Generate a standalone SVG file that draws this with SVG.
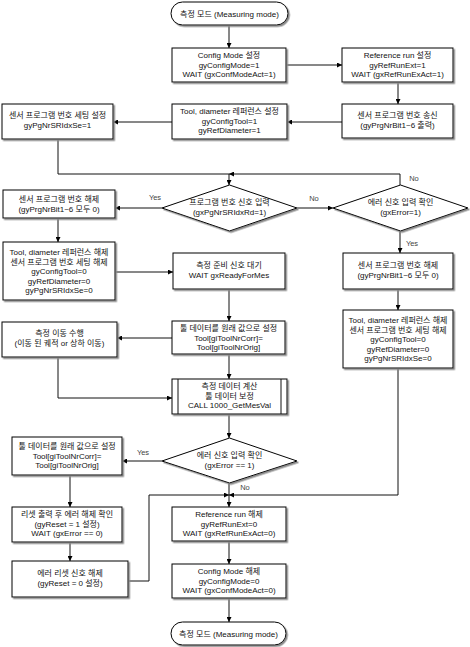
<svg xmlns="http://www.w3.org/2000/svg" width="470" height="647" viewBox="0 0 470 647">
<defs>
<filter id="sh" x="-10%" y="-10%" width="130%" height="140%"><feDropShadow dx="1.5" dy="1.5" stdDeviation="0" flood-color="#8a8a8a"/></filter>
<marker id="ah" viewBox="0 0 6 6" refX="6" refY="3" markerWidth="5" markerHeight="5" orient="auto" markerUnits="userSpaceOnUse"><path d="M0,0 L6,3 L0,6 z" fill="#000"/></marker>
</defs>
<style>
.n{fill:#fff;stroke:#000;stroke-width:1;filter:url(#sh)}
.t{font-family:"Liberation Sans","Noto Sans CJK KR",sans-serif;font-size:8px;fill:#111;text-anchor:middle}
.l{font-family:"Liberation Sans","Noto Sans CJK KR",sans-serif;font-size:7.5px;fill:#444;text-anchor:middle}
.c{fill:none;stroke:#111;stroke-width:1;marker-end:url(#ah)}
.p{fill:none;stroke:#111;stroke-width:1}
</style>
<rect width="470" height="647" fill="#fff"/>
<g id="connectors">
<path class="c" d="M229,25 V48"/>
<path class="c" d="M286,65 H342"/>
<path class="c" d="M398,82 V104"/>
<path class="c" d="M342,122 H287"/>
<path class="c" d="M172,122 H113"/>
<path class="c" d="M58,139 V174 H229 V185"/>
<path class="c" d="M400,185 V174 H229"/>
<path class="c" d="M297,208 H333"/>
<path class="c" d="M162,208 H115"/>
<path class="c" d="M58,218 V242"/>
<path class="c" d="M115,272 H173"/>
<path class="c" d="M400,231 V253"/>
<path class="c" d="M398,289 V310"/>
<path class="c" d="M229,289 V321"/>
<path class="c" d="M172,338 H117"/>
<path class="c" d="M229,354 V379"/>
<path class="c" d="M58,357 V398 H172"/>
<path class="c" d="M229,414 V438"/>
<path class="c" d="M162,461 H122"/>
<path class="c" d="M70,475 V507"/>
<path class="c" d="M70,542 V561"/>
<path class="c" d="M128,581 H149 V495 H229"/>
<path class="c" d="M229,483 V507"/>
<path class="c" d="M398,368 V495 H229"/>
<path class="c" d="M229,541 V564"/>
<path class="c" d="M229,598 V622"/>
<text class="l" x="155" y="200">Yes</text>
<text class="l" x="314" y="201">No</text>
<text class="l" x="414" y="181">No</text>
<text class="l" x="412" y="246">Yes</text>
<text class="l" x="143" y="455">Yes</text>
<text class="l" x="245" y="490">No</text>
</g>
<g id="start"><rect class="n" x="171" y="2" width="117" height="23" rx="11.5"/><text class="t" x="229.5" y="16.5">측정 모드 (Measuring mode)</text></g>
<g id="config-set"><rect class="n" x="172" y="48" width="114" height="34"/><text class="t" x="229" y="58"><tspan x="229">Config Mode 설정</tspan><tspan x="229" dy="9.5">gyConfigMode=1</tspan><tspan x="229" dy="9.5">WAIT (gxConfModeAct=1)</tspan></text></g>
<g id="ref-set"><rect class="n" x="342" y="48" width="111" height="34"/><text class="t" x="397.5" y="58"><tspan x="397.5">Reference run 설정</tspan><tspan x="397.5" dy="9.5">gyRefRunExt=1</tspan><tspan x="397.5" dy="9.5">WAIT (gxRefRunExAct=1)</tspan></text></g>
<g id="send"><rect class="n" x="342" y="104" width="111" height="34"/><text class="t" x="397.5" y="118"><tspan x="397.5">센서 프로그램 번호 송신</tspan><tspan x="397.5" dy="9.5">(gyPrgNrBit1~6 출력)</tspan></text></g>
<g id="toolref-set"><rect class="n" x="172" y="104" width="115" height="35"/><text class="t" x="229.5" y="114"><tspan x="229.5">Tool, diameter 레퍼런스 설정</tspan><tspan x="229.5" dy="9.5">gyConfigTool=1</tspan><tspan x="229.5" dy="9.5">gyRefDiameter=1</tspan></text></g>
<g id="sensor-set"><rect class="n" x="2" y="104" width="111" height="35"/><text class="t" x="57.5" y="118"><tspan x="57.5">센서 프로그램 번호 세팅 설정</tspan><tspan x="57.5" dy="9.5">gyPgNrSRIdxSe=1</tspan></text></g>
<g id="dec-prog"><polygon class="n" points="229.5,185 297,208 229.5,231 162,208"/><text class="t" x="229.5" y="205"><tspan x="229.5">프로그램 번호 신호 입력</tspan><tspan x="229.5" dy="9.5">(gxPgNrSRIdxRd=1)</tspan></text></g>
<g id="dec-err1"><polygon class="n" points="400.5,185 468,208 400.5,231 333,208"/><text class="t" x="400.5" y="205"><tspan x="400.5">에러 신호 입력 확인</tspan><tspan x="400.5" dy="9.5">(gxError=1)</tspan></text></g>
<g id="release-left"><rect class="n" x="3" y="190" width="112" height="28"/><text class="t" x="59" y="202"><tspan x="59">센서 프로그램 번호 해제</tspan><tspan x="59" dy="9.5">(gyPrgNrBit1~6 모두 0)</tspan></text></g>
<g id="toolrel-left"><rect class="n" x="3" y="242" width="112" height="58"/><text class="t" x="59" y="255"><tspan x="59">Tool, diameter 레퍼런스 해제</tspan><tspan x="59" dy="9.5">센서 프로그램 번호 세팅 해제</tspan><tspan x="59" dy="9.5">gyConfigTool=0</tspan><tspan x="59" dy="9.5">gyRefDiameter=0</tspan><tspan x="59" dy="9.5">gyPgNrSRIdxSe=0</tspan></text></g>
<g id="ready"><rect class="n" x="173" y="253" width="112" height="36"/><text class="t" x="229" y="268"><tspan x="229">측정 준비 신호 대기</tspan><tspan x="229" dy="9.5">WAIT gxReadyForMes</tspan></text></g>
<g id="release-right"><rect class="n" x="343" y="253" width="110" height="36"/><text class="t" x="398" y="268"><tspan x="398">센서 프로그램 번호 해제</tspan><tspan x="398" dy="9.5">(gyPrgNrBit1~6 모두 0)</tspan></text></g>
<g id="toolrel-right"><rect class="n" x="343" y="310" width="110" height="58"/><text class="t" x="398" y="323"><tspan x="398">Tool, diameter 레퍼런스 해제</tspan><tspan x="398" dy="9.5">센서 프로그램 번호 세팅 해제</tspan><tspan x="398" dy="9.5">gyConfigTool=0</tspan><tspan x="398" dy="9.5">gyRefDiameter=0</tspan><tspan x="398" dy="9.5">gyPgNrSRIdxSe=0</tspan></text></g>
<g id="tooldata-mid"><rect class="n" x="172" y="321" width="113" height="33"/><text class="t" x="228.5" y="331"><tspan x="228.5">툴 데이터를 원래 값으로 설정</tspan><tspan x="228.5" dy="9.5">Tool[giToolNrCorr]=</tspan><tspan x="228.5" dy="9.5">Tool[giToolNrOrig]</tspan></text></g>
<g id="move"><rect class="n" x="2" y="322" width="115" height="35"/><text class="t" x="59.5" y="336"><tspan x="59.5">측정 이동 수행</tspan><tspan x="59.5" dy="9.5">(이동 된 궤적 or 상하 이동)</tspan></text></g>
<g id="calc"><rect class="n" x="172" y="379" width="115" height="35"/><path class="p" d="M178,379 V414 M281,379 V414"/><text class="t" x="229.5" y="389"><tspan x="229.5">측정 데이터 계산</tspan><tspan x="229.5" dy="9.5">툴 데이터 보정</tspan><tspan x="229.5" dy="9.5">CALL 1000_GetMesVal</tspan></text></g>
<g id="dec-err2"><polygon class="n" points="229.5,438 297,461 229.5,483 162,461"/><text class="t" x="229.5" y="458"><tspan x="229.5">에러 신호 입력 확인</tspan><tspan x="229.5" dy="9.5">(gxError == 1)</tspan></text></g>
<g id="tooldata-left"><rect class="n" x="12" y="437" width="110" height="38"/><text class="t" x="67" y="449"><tspan x="67">툴 데이터를 원래 값으로 설정</tspan><tspan x="67" dy="9.5">Tool[giToolNrCorr]=</tspan><tspan x="67" dy="9.5">Tool[giToolNrOrig]</tspan></text></g>
<g id="reset"><rect class="n" x="12" y="507" width="110" height="35"/><text class="t" x="67" y="517"><tspan x="67">리셋 출력 후 에러 해제 확인</tspan><tspan x="67" dy="9.5">(gyReset = 1 설정)</tspan><tspan x="67" dy="9.5">WAIT (gxError == 0)</tspan></text></g>
<g id="reset-off"><rect class="n" x="12" y="561" width="116" height="36"/><text class="t" x="70" y="576"><tspan x="70">에러 리셋 신호 해제</tspan><tspan x="70" dy="9.5">(gyReset = 0 설정)</tspan></text></g>
<g id="ref-release"><rect class="n" x="172" y="507" width="114" height="34"/><text class="t" x="229" y="517"><tspan x="229">Reference run 해제</tspan><tspan x="229" dy="9.5">gyRefRunExt=0</tspan><tspan x="229" dy="9.5">WAIT (gxRefRunExAct=0)</tspan></text></g>
<g id="config-release"><rect class="n" x="172" y="564" width="114" height="34"/><text class="t" x="229" y="574"><tspan x="229">Config Mode 해제</tspan><tspan x="229" dy="9.5">gyConfigMode=0</tspan><tspan x="229" dy="9.5">WAIT (gxConfModeAct=0)</tspan></text></g>
<g id="end"><rect class="n" x="171" y="622" width="115" height="23" rx="11.5"/><text class="t" x="228.5" y="636.5">측정 모드 (Measuring mode)</text></g>
</svg>
